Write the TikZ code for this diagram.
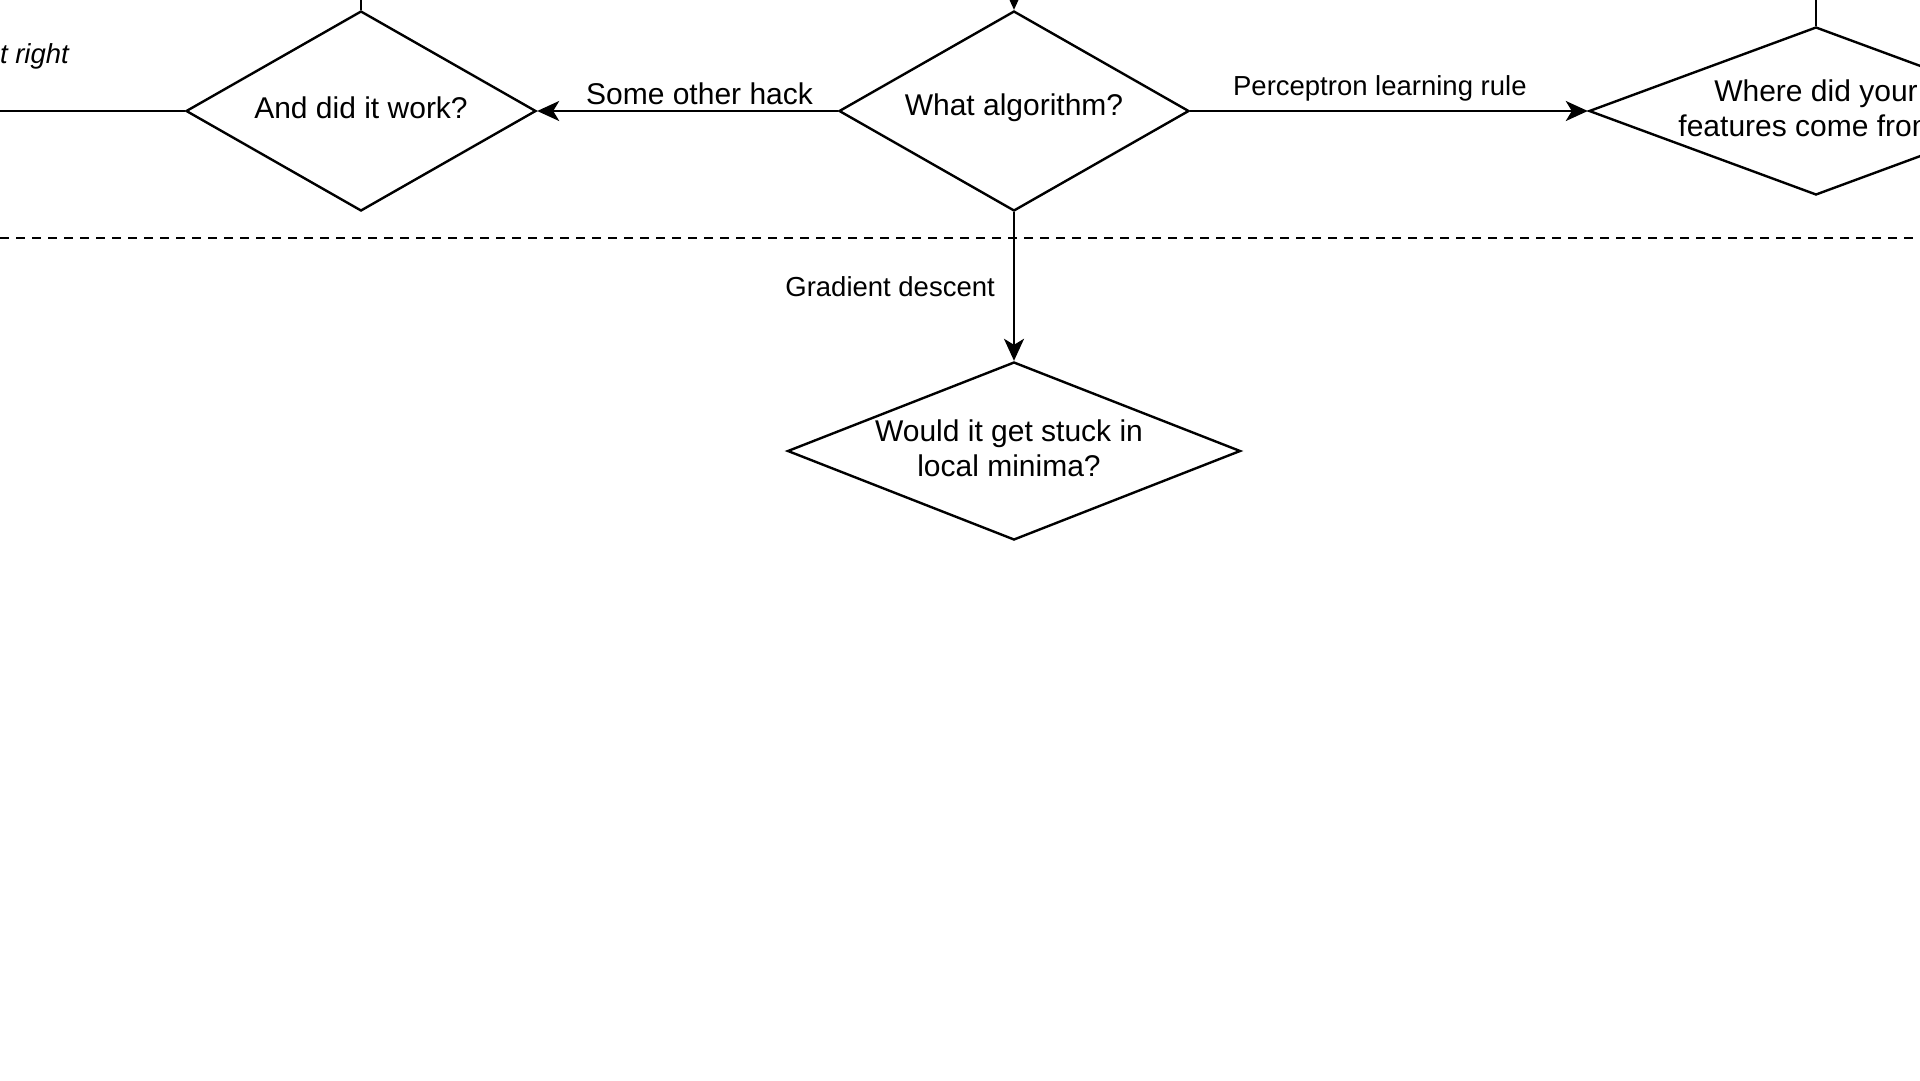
\documentclass[tikz,border=0pt]{standalone}
\usepackage{fontspec}
\setmainfont{Liberation Sans}
\usetikzlibrary{shapes.geometric,arrows.meta}
\begin{document}
\begin{tikzpicture}[x=1pt,y=-1pt,
  decision/.style={diamond, draw, inner sep=0pt, line width=2.4pt},
  qtext/.style={font=\fontsize{30}{35}\selectfont, align=center, inner sep=0pt},
  biglabel/.style={font=\fontsize{30}{35}\selectfont, inner sep=3pt},
  elabel/.style={font=\fontsize{27.5}{32}\selectfont, inner sep=3pt},
  flow/.style={-{Stealth[length=22pt,width=20pt,inset=6pt]}, line width=2.4pt},
  plain/.style={line width=2.4pt},
]
\useasboundingbox (0,0) rectangle (1920,1080);
\clip (0,0) rectangle (1920,1080);

% decision diamonds
\node[decision, minimum width=350pt, minimum height=200pt] (work) at (361,111) {};
\node[qtext] (workq) at (361,108) {And did it work?};

\node[decision, minimum width=350pt, minimum height=200pt] (alg) at (1014,111) {};
\node[qtext] (algq) at (1014,108) {What algorithm?};

\node[decision, minimum width=454pt, minimum height=168pt] (feat) at (1816,111) {};
\node[qtext] (featq) at (1816,108) {Where did your\\features come from?};

\node[decision, minimum width=453pt, minimum height=178pt] (stuck) at (1014,451) {};
\node[qtext] (stuckq) at (1009,448) {Would it get stuck in\\local minima?};

% free ends of connectors leaving the visible area
\coordinate (algIn) at (1014,-80);
\coordinate (workUp) at (361,-80);
\coordinate (featUp) at (1816,-80);
\coordinate (leftOut) at (-80,111);

% divider
\draw[line width=2pt, dash pattern=on 9pt off 7pt] (0,237.5) -- (1920,237.5);

% connectors
\draw[flow] (algIn) -- (alg.north);
\draw[plain] (work.north) -- (workUp);
\draw[plain] (feat.north) -- (featUp);
\draw[plain] (work.west) -- (leftOut);
\node[elabel, font=\fontsize{27.5}{32}\selectfont\itshape, anchor=east] (rightlbl) at (72,56) {t right};

\draw[flow] (alg.west) -- node[biglabel, pos=0.46, above=2pt] (hacklbl) {Some other hack} (work.east);
\draw[flow] (alg.east) -- node[elabel, pos=0.477, above=6pt] (perclbl) {Perceptron learning rule} (feat.west);
\draw[flow] (alg.south) -- node[elabel, pos=0.5, left=15pt] (gradlbl) {Gradient descent} (stuck.north);
\end{tikzpicture}
\end{document}
